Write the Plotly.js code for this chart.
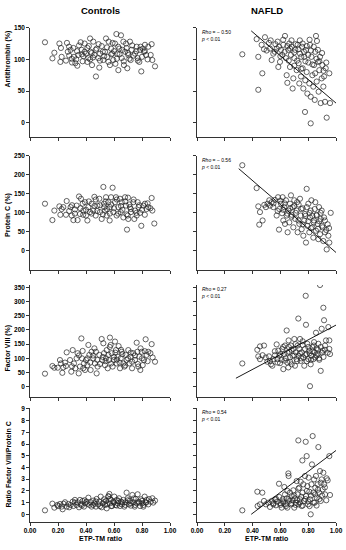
<!DOCTYPE html>
<html><head><meta charset="utf-8">
<script src="https://cdn.plot.ly/plotly-3.0.1.min.js"></script>
<style>html,body{margin:0;padding:0;background:#fff}#chart{width:346px;height:550px}</style>
</head><body><div id="chart"></div>
<script>
// ---------------- DATA ----------------
const columnTitles = ["Controls", "NAFLD"];
const xAxisTitle = "ETP-TM ratio";
const rowTitles = ["Antithrombin (%)", "Protein C (%)", "Factor VIII (%)", "Ratio Factor VIII/Protein C"];
const xTickVals = [0, 0.2, 0.4, 0.6, 0.8, 1.0];
const xTickText = ["0.00", "0.20", "0.40", "0.60", "0.80", "1.00"];
const yTickVals1 = [0, 50, 100, 150];
const yTickVals2 = [0, 50, 100, 150, 200, 250];
const yTickVals3 = [0, 50, 100, 150, 200, 250, 300, 350];
const yTickVals4 = [0, 1, 2, 3, 4, 5, 6, 7, 8, 9];

const rhoText = ["− 0.50", "− 0.56", "0.27", "0.54"];
const pText = ["< 0.01", "< 0.01", "< 0.01", "< 0.01"];

// Controls – Antithrombin
const ctrlAT_x = [0.107,0.174,0.160,0.21,0.221,0.217,0.226,0.257,0.264,0.279,0.29,0.298,0.314,0.324,0.336,0.338,0.345,0.362,0.369,0.376,0.381,0.39,0.40,0.41,0.417,0.429,0.433,0.443,0.452,0.460,0.471,0.476,0.488,0.495,0.5,0.512,0.524,0.536,0.543,0.552,0.562,0.571,0.579,0.588,0.595,0.607,0.617,0.624,0.631,0.638,0.65,0.655,0.667,0.671,0.679,0.686,0.695,0.702,0.714,0.719,0.726,0.75,0.762,0.769,0.781,0.786,0.795,0.805,0.814,0.821,0.829,0.845,0.862,0.869,0.874,0.893,
0.27,0.31,0.33,0.35,0.37,0.39,0.41,0.42,0.44,0.45,0.47,0.49,0.5,0.52,0.53,0.55,0.56,0.58,0.59,0.6,0.62,0.63,0.64,0.66,0.67,0.69,0.7,0.71,0.73,0.74,0.76,0.77,0.79,0.8,0.82,0.84,0.28,0.3,0.43,0.61];
const ctrlAT_y = [127,110.5,101.6,125,118,96,104,98,126,120,115,101,104,94,113,90,107,127,115,97,105,125,109,118,102,133,112,91,128,107,73,117,102,87,109,121,99,112,133,104,128,91,117,109,99,125,140,109,83,117,138,102,128,91,112,125,86,107,128,99,115,109,120,102,96,115,81,117,112,123,107,120,107,124,99,89,
112,118,100,122,108,112,96,121,110,103,115,124,98,112,105,119,96,108,126,113,101,120,108,115,97,118,110,101,122,106,113,98,120,104,113,100,106,95,100,93];

// Controls – Protein C
const ctrlPC_x = [0.107,0.16,0.174,0.21,0.217,0.226,0.238,0.262,0.257,0.29,0.298,0.31,0.321,0.333,0.34,0.35,0.357,0.364,0.376,0.381,0.393,0.4,0.41,0.417,0.429,0.44,0.452,0.46,0.469,0.481,0.495,0.5,0.512,0.524,0.529,0.536,0.543,0.548,0.56,0.569,0.571,0.579,0.59,0.595,0.607,0.614,0.619,0.631,0.643,0.648,0.655,0.667,0.679,0.686,0.693,0.698,0.702,0.714,0.721,0.738,0.745,0.75,0.762,0.769,0.776,0.786,0.795,0.81,0.821,0.833,0.845,0.869,0.874,0.888,
0.28,0.32,0.36,0.38,0.42,0.44,0.46,0.48,0.5,0.52,0.54,0.55,0.57,0.58,0.6,0.62,0.63,0.65,0.66,0.68,0.69,0.71,0.72,0.74,0.76,0.78,0.8,0.82,0.84,0.86,0.3,0.4,0.47,0.53,0.7];
const ctrlPC_y = [124,81,106,117,95,110,115,131,95,115,93,81,109,119,81,143,97,137,124,106,128,93,80,115,102,124,106,142,93,119,137,102,84,168,124,106,141,93,128,80,115,141,166,102,128,141,93,115,137,102,128,88,141,119,56,93,84,115,102,128,84,106,93,128,115,100,66,119,124,110,115,139,106,72,
105,98,112,95,130,98,118,105,120,96,130,110,98,122,112,135,98,118,108,130,96,122,110,135,100,120,108,95,125,112,120,108,135,115,140];

// Controls – Factor VIII
const ctrlF8_x = [0.107,0.16,0.174,0.198,0.214,0.221,0.231,0.238,0.262,0.257,0.286,0.295,0.305,0.314,0.324,0.333,0.34,0.348,0.357,0.367,0.371,0.376,0.386,0.393,0.4,0.41,0.417,0.424,0.433,0.44,0.452,0.464,0.471,0.476,0.483,0.495,0.512,0.517,0.524,0.529,0.536,0.543,0.548,0.555,0.564,0.571,0.576,0.583,0.59,0.598,0.607,0.614,0.619,0.626,0.633,0.643,0.648,0.655,0.667,0.674,0.683,0.69,0.702,0.71,0.719,0.729,0.738,0.75,0.762,0.767,0.774,0.781,0.788,0.798,0.805,0.814,0.826,0.833,0.845,0.869,0.876,0.893,
0.25,0.3,0.35,0.38,0.41,0.43,0.45,0.48,0.5,0.52,0.54,0.56,0.58,0.6,0.61,0.62,0.64,0.66,0.68,0.7,0.72,0.73,0.75,0.77,0.79,0.8,0.82,0.84,0.86,0.46,0.57,0.65];
const ctrlF8_y = [46,73,67,67,94,82,49,68,121,73,94,53,129,82,65,100,118,47,71,170,100,126,82,59,94,76,147,112,59,123,100,82,123,47,71,112,168,94,153,118,76,100,129,65,94,173,147,118,71,94,159,129,82,106,143,65,100,123,82,71,112,94,129,82,106,65,118,94,155,123,71,106,59,123,76,94,167,112,123,150,103,88,
85,72,110,65,100,85,110,95,80,105,90,112,82,105,120,95,85,115,75,100,120,88,110,80,135,100,125,90,118,135,140,130];

// Controls – Ratio FVIII/PC
const ctrlR_x = [0.107,0.16,0.174,0.195,0.214,0.226,0.233,0.25,0.262,0.274,0.29,0.305,0.31,0.321,0.333,0.34,0.35,0.357,0.364,0.376,0.386,0.393,0.405,0.417,0.424,0.433,0.44,0.452,0.462,0.471,0.476,0.488,0.495,0.505,0.512,0.519,0.529,0.536,0.543,0.548,0.56,0.567,0.571,0.579,0.586,0.595,0.602,0.61,0.619,0.626,0.636,0.643,0.65,0.657,0.667,0.674,0.681,0.69,0.698,0.705,0.714,0.721,0.731,0.738,0.748,0.755,0.762,0.769,0.776,0.786,0.793,0.802,0.81,0.819,0.826,0.833,0.845,0.862,0.874,0.893,
0.2,0.24,0.28,0.32,0.37,0.39,0.41,0.45,0.47,0.5,0.53,0.55,0.57,0.58,0.6,0.62,0.63,0.66,0.68,0.7,0.72,0.74,0.75,0.78,0.8,0.81,0.83,0.85,0.88,0.56];
const ctrlR_y = [0.34,0.91,0.57,0.8,0.88,0.66,0.43,1.03,0.66,0.88,0.8,1.08,0.71,1.23,0.8,1.03,0.6,1.23,0.85,1.14,0.66,0.94,1.08,1.42,0.8,1.03,0.66,1.17,0.91,0.66,1.31,0.85,1.08,1.51,0.6,0.94,1.28,0.8,1.14,0.51,1.51,1.74,0.94,1.23,0.71,1.08,1.51,0.8,1.23,0.94,1.37,0.71,1.08,0.85,1.23,0.66,1.03,1.85,1.37,0.85,1.17,0.74,1.65,1.03,0.66,1.31,0.94,1.71,1.08,0.71,1.28,0.94,0.66,1.51,1.03,1.23,0.85,1.08,1.37,1.17,
0.7,0.9,0.6,1.0,0.75,1.2,0.9,0.8,1.1,0.7,1.05,0.85,1.3,0.7,1.0,0.75,1.15,1.0,0.8,1.2,0.95,1.35,0.8,1.0,1.15,0.8,1.0,1.3,1.0,1.55];

// NAFLD – Antithrombin
const nafAT_x = [0.326,0.441,0.441,0.429,0.47,0.489,0.465,0.482,0.501,0.518,0.525,0.537,0.549,0.564,0.573,0.585,0.597,0.604,0.614,0.621,0.633,0.64,0.645,0.65,0.657,0.664,0.669,0.676,0.681,0.688,0.693,0.7,0.707,0.717,0.724,0.731,0.736,0.741,0.748,0.755,0.76,0.765,0.772,0.779,0.784,0.789,0.794,0.801,0.808,0.813,0.818,0.823,0.83,0.837,0.842,0.847,0.851,0.856,0.861,0.863,0.87,0.875,0.88,0.885,0.89,0.897,0.902,0.909,0.914,0.921,0.926,0.933,0.952,0.957,0.818,0.777,
0.56,0.58,0.6,0.62,0.63,0.65,0.66,0.67,0.68,0.7,0.71,0.72,0.73,0.74,0.75,0.76,0.77,0.78,0.79,0.8,0.81,0.82,0.83,0.84,0.86,0.87,0.88,0.9,0.91,0.93,0.53,0.59,0.7,0.75,0.85];
const nafAT_y = [108,52,104,132,78,135,123,116,114,126,117,99,109,124,117,88,96,115,107,123,137,102,75,63,115,125,88,107,120,54,70,102,115,83,123,94,62,109,73,120,86,54,104,67,115,80,46,95,62,123,41,104,75,57,91,36,112,137,65,129,96,49,83,104,31,70,91,57,73,33,86,8,78,31,-1,17,
112,128,105,131,112,121,98,117,130,111,124,98,116,130,104,125,112,97,121,107,131,114,92,120,101,115,97,110,82,95,130,120,90,85,78];
const nafAT_fitX = [0.39, 1.0];
const nafAT_fitY = [145, 31];

// NAFLD – Protein C
const nafPC_x = [0.326,0.429,0.441,0.453,0.448,0.472,0.484,0.496,0.508,0.52,0.525,0.537,0.549,0.561,0.573,0.583,0.59,0.592,0.604,0.612,0.616,0.621,0.628,0.633,0.64,0.645,0.652,0.657,0.664,0.669,0.676,0.681,0.688,0.693,0.7,0.707,0.717,0.724,0.731,0.736,0.741,0.746,0.753,0.76,0.765,0.772,0.777,0.784,0.789,0.794,0.801,0.808,0.813,0.818,0.823,0.83,0.837,0.842,0.847,0.851,0.856,0.861,0.868,0.873,0.878,0.885,0.89,0.897,0.904,0.909,0.914,0.921,0.933,0.945,0.952,0.962,
0.55,0.58,0.6,0.62,0.63,0.65,0.67,0.68,0.7,0.71,0.72,0.73,0.75,0.76,0.78,0.79,0.8,0.81,0.82,0.83,0.84,0.86,0.87,0.88,0.89,0.9,0.92,0.93,0.94,0.95];
const nafPC_y = [225,165,117,102,69,80,121,115,124,133,119,128,115,134,93,141,56,110,124,99,141,80,115,71,133,93,49,106,75,124,146,95,115,62,133,84,106,49,122,71,137,93,57,112,40,80,97,22,163,66,124,49,88,106,133,62,35,80,110,128,53,93,71,31,115,44,84,106,62,26,88,49,4,40,22,100,
125,105,132,108,125,98,112,90,118,100,128,80,110,70,92,115,78,100,60,92,75,95,58,78,100,66,80,55,70,60];
const nafPC_fitX = [0.30, 1.0];
const nafPC_fitY = [216, -4];

// NAFLD – Factor VIII
const nafF8_x = [0.326,0.434,0.441,0.453,0.472,0.453,0.482,0.494,0.506,0.518,0.525,0.532,0.542,0.549,0.561,0.573,0.578,0.585,0.592,0.597,0.609,0.614,0.621,0.628,0.633,0.638,0.645,0.65,0.657,0.659,0.664,0.669,0.676,0.681,0.688,0.693,0.7,0.705,0.712,0.717,0.724,0.729,0.731,0.736,0.741,0.746,0.753,0.76,0.765,0.772,0.777,0.782,0.784,0.789,0.794,0.801,0.808,0.813,0.818,0.823,0.83,0.837,0.842,0.847,0.851,0.856,0.861,0.868,0.873,0.878,0.885,0.89,0.897,0.904,0.909,0.914,0.921,0.928,0.945,0.952,0.957,0.952,
0.56,0.58,0.6,0.62,0.63,0.65,0.67,0.68,0.7,0.71,0.72,0.74,0.75,0.76,0.78,0.79,0.8,0.81,0.82,0.83,0.84,0.86,0.87,0.88,0.89,0.9,0.91,0.92,0.94,0.66];
const nafF8_y = [82,130,107,97,111,142,145,103,88,107,91,79,74,97,111,149,97,127,109,83,95,133,62,115,145,100,198,85,68,163,123,103,145,79,109,133,168,74,121,97,145,240,109,133,168,91,121,147,103,74,133,320,218,115,151,97,127,2,79,109,139,97,157,121,103,190,135,115,151,100,358,56,204,127,278,234,145,163,210,163,115,133,
125,85,115,140,92,120,88,130,110,150,90,118,100,160,112,90,140,118,95,125,145,110,130,95,140,120,105,130,120,140];
const nafF8_fitX = [0.28, 1.0];
const nafF8_fitY = [30, 217];

// NAFLD – Ratio FVIII/PC
const nafR_x = [0.326,0.434,0.436,0.47,0.453,0.482,0.496,0.513,0.525,0.537,0.549,0.561,0.568,0.578,0.59,0.592,0.602,0.609,0.616,0.621,0.628,0.633,0.638,0.645,0.65,0.657,0.659,0.664,0.669,0.676,0.681,0.688,0.693,0.7,0.705,0.712,0.717,0.724,0.729,0.731,0.736,0.741,0.746,0.753,0.758,0.76,0.765,0.77,0.777,0.782,0.784,0.789,0.794,0.799,0.803,0.808,0.813,0.818,0.823,0.827,0.832,0.837,0.842,0.847,0.851,0.856,0.861,0.868,0.873,0.878,0.885,0.89,0.897,0.904,0.909,0.914,0.921,0.933,0.952,0.957,
0.55,0.57,0.6,0.62,0.64,0.66,0.68,0.7,0.71,0.72,0.74,0.75,0.76,0.78,0.79,0.8,0.81,0.82,0.84,0.85,0.86,0.87,0.88,0.89,0.9,0.92,0.93,0.94,0.65,0.73];
const nafR_y = [0.34,1.93,0.71,1.85,0.85,1.14,0.85,0.99,0.63,1.14,0.85,1.28,0.77,1.08,2.61,1.48,0.94,0.57,1.28,0.99,2.33,1.7,0.85,1.36,0.57,3.49,3.27,1.14,1.85,0.85,1.56,1.19,2.05,0.57,1.36,0.99,2.84,1.7,6.31,0.85,2.27,1.28,2.78,0.71,4.6,1.85,2.56,1.14,3.27,6.19,1.56,4.97,2.41,0.85,3.13,1.93,1.28,0,2.56,4.26,6.68,1.85,2.98,0.99,2.27,3.27,1.42,2.56,5.74,1.85,3.69,1.14,2.98,2.13,3.55,2.56,1.7,3.07,4.97,1.65,
0.95,1.3,0.8,1.1,0.7,1.3,0.95,1.6,0.8,1.2,1.0,1.5,0.75,1.3,2.0,1.1,0.7,1.6,1.0,1.7,0.75,2.1,1.3,2.7,1.6,2.3,1.2,2.9,2.0,2.2];
const nafR_fitX = [0.39, 1.0];
const nafR_fitY = [0, 5.45];

// ---------------- LAYOUT / DRAW ----------------
const W = 346, H = 550;
const FONT = "Liberation Sans, Arial, sans-serif";
const px = v => v / W;
const py = v => 1 - v / H;

const colDom = [[px(30), px(170)], [px(197), px(336)]];
const rowPx = [[27.7, 137.3], [155.7, 270], [285, 396.7], [408.3, 521.7]];
const yRanges = [[-23, 150], [-50, 250], [-35, 358], [-0.63, 9.05]];
const yTicks = [yTickVals1, yTickVals2, yTickVals3, yTickVals4];

const ctrlSets = [[ctrlAT_x, ctrlAT_y], [ctrlPC_x, ctrlPC_y], [ctrlF8_x, ctrlF8_y], [ctrlR_x, ctrlR_y]];
const nafSets = [[nafAT_x, nafAT_y, nafAT_fitX, nafAT_fitY], [nafPC_x, nafPC_y, nafPC_fitX, nafPC_fitY],
                 [nafF8_x, nafF8_y, nafF8_fitX, nafF8_fitY], [nafR_x, nafR_y, nafR_fitX, nafR_fitY]];

const traces = [];
const layout = {
  width: W, height: H, margin: {l: 0, r: 0, t: 0, b: 0},
  paper_bgcolor: "#fff", plot_bgcolor: "#fff", showlegend: false,
  font: {family: FONT, color: "#000"},
  annotations: []
};

const marker = {symbol: "circle-open", size: 5.2, color: "#222", line: {width: 0.7, color: "#222"}};
const tickfont = {family: FONT, size: 6.5, color: "#000", weight: "bold"};

function axisBase() {
  return {showgrid: false, zeroline: false, showline: true, linecolor: "#000", linewidth: 0.8,
          ticks: "outside", ticklen: 3, tickwidth: 0.8, tickcolor: "#000", tickfont: tickfont, fixedrange: true};
}

let idx = 0;
for (let r = 0; r < 4; r++) {
  for (let c = 0; c < 2; c++) {
    idx++;
    const xa = "x" + (idx === 1 ? "" : idx), ya = "y" + (idx === 1 ? "" : idx);
    const xKey = "xaxis" + (idx === 1 ? "" : idx), yKey = "yaxis" + (idx === 1 ? "" : idx);
    layout[xKey] = Object.assign(axisBase(), {
      domain: colDom[c], anchor: ya, range: [0, 1],
      tickmode: "array", tickvals: xTickVals, ticktext: xTickText, showticklabels: r === 3
    });
    layout[yKey] = Object.assign(axisBase(), {
      domain: [py(rowPx[r][1]), py(rowPx[r][0])], anchor: xa, range: yRanges[r],
      tickmode: "array", tickvals: yTicks[r], showticklabels: c === 0
    });
    if (c === 0) {
      const s = ctrlSets[r];
      traces.push({type: "scatter", mode: "markers", x: s[0], y: s[1], xaxis: xa, yaxis: ya, marker: marker, hoverinfo: "skip"});
    } else {
      const s = nafSets[r];
      traces.push({type: "scatter", mode: "markers", x: s[0], y: s[1], xaxis: xa, yaxis: ya, marker: marker, hoverinfo: "skip"});
      traces.push({type: "scatter", mode: "lines", x: s[2], y: s[3], xaxis: xa, yaxis: ya, line: {color: "#000", width: 0.9}, hoverinfo: "skip"});
      layout.annotations.push({
        xref: "paper", yref: "paper", x: px(199), y: py(rowPx[r][0] - 1), xanchor: "left", yanchor: "top",
        align: "left", showarrow: false,
        text: "<i>Rho</i> = " + rhoText[r] + "<br><i>p</i> " + pText[r],
        font: {family: FONT, size: 5, color: "#000"}
      });
    }
  }
}

// column titles
const colCenters = [100, 266.5];
columnTitles.forEach((t, i) => layout.annotations.push({
  xref: "paper", yref: "paper", x: px(colCenters[i]), y: py(10), xanchor: "center", yanchor: "middle",
  showarrow: false, text: t, font: {family: FONT, size: 9.5, color: "#000", weight: "bold"}
}));
// x-axis titles
colCenters.forEach(cx => layout.annotations.push({
  xref: "paper", yref: "paper", x: px(cx), y: py(538.5), xanchor: "center", yanchor: "middle",
  showarrow: false, text: xAxisTitle, font: {family: FONT, size: 7, color: "#000", weight: "bold"}
}));
// y-axis titles
const rowTitleCenters = [59, 215.5, 348, 465];
rowTitles.forEach((t, i) => layout.annotations.push({
  xref: "paper", yref: "paper", x: px(7.5), y: py(rowTitleCenters[i]), xanchor: "center", yanchor: "middle",
  textangle: -90, showarrow: false, text: t, font: {family: FONT, size: 7, color: "#000", weight: "bold"}
}));

Plotly.newPlot("chart", traces, layout, {staticPlot: true, displayModeBar: false});
</script>
</body></html>
